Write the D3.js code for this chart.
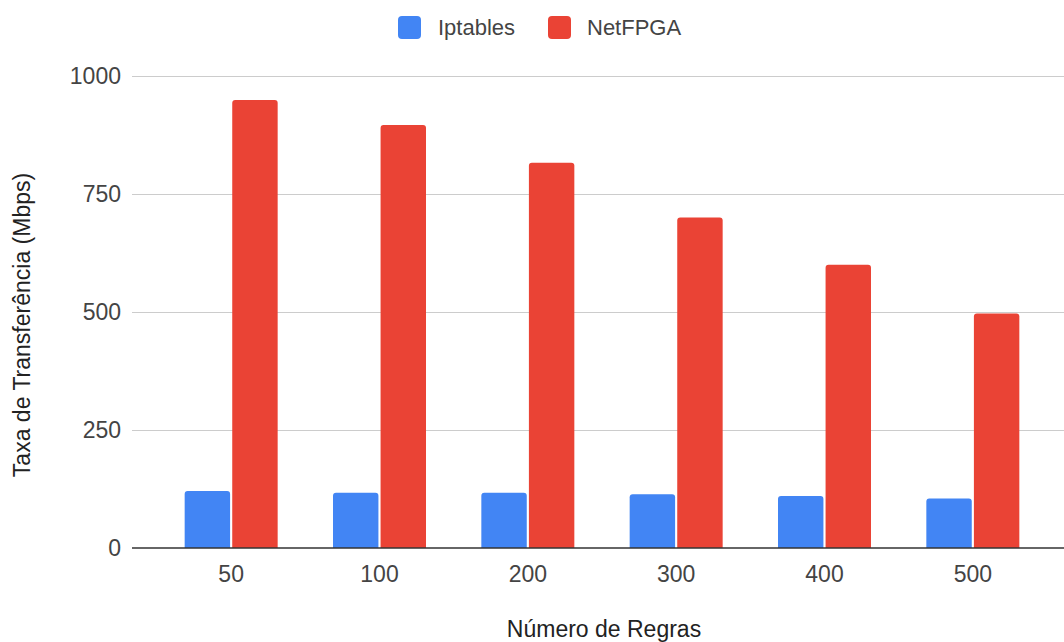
<!DOCTYPE html>
<html>
<head>
<meta charset="utf-8">
<script src="https://cdn.jsdelivr.net/npm/d3@7"></script>
<style>
  html, body { margin: 0; padding: 0; background: #fff; }
  svg { display: block; font-family: "Liberation Sans", Arial, sans-serif; }
</style>
</head>
<body>
<svg id="chart" width="1064" height="642"></svg>
<script>
const categories = ["50", "100", "200", "300", "400", "500"];
const seriesNames = ["Iptables", "NetFPGA"];
const iptables = [121, 117, 117, 114, 110, 105];
const netfpga = [949, 896, 816, 700, 600, 497];
const yTicks = [0, 250, 500, 750, 1000];
const colors = ["#4285F4", "#EA4335"];

const svg = d3.select("#chart");
const FONT = "Liberation Sans, Arial, sans-serif";
const plot = { left: 132, right: 1064, top: 76, bottom: 548 };

const x0 = d3.scaleBand().domain(categories).range([157, 1047])
  .paddingInner(0).paddingOuter(0);
const groupW = 93;
const x1 = d3.scaleBand().domain(seriesNames).range([0, groupW]).paddingInner(0.045);
const y = d3.scaleLinear().domain([0, 1000]).range([plot.bottom, plot.top]);

// gridlines
svg.append("g").selectAll("line").data(yTicks.filter(d => d !== 0)).join("line")
  .attr("x1", plot.left).attr("x2", plot.right)
  .attr("y1", d => y(d) + 0.5).attr("y2", d => y(d) + 0.5)
  .attr("stroke", "#cccccc").attr("stroke-width", 1);

// y tick labels
const yAxis = d3.axisLeft(y).tickValues(yTicks).tickFormat(d3.format("d")).tickSize(0).tickPadding(0);
const gy = svg.append("g").attr("transform", "translate(121,0)").call(yAxis);
gy.attr("font-family", FONT);
gy.select(".domain").remove();
gy.selectAll("text").attr("font-size", 23).attr("fill", "#444");

// bars
function roundTop(x, yTop, w, h, r) {
  r = Math.min(r, h, w / 2);
  return `M${x},${yTop + h}V${yTop + r}Q${x},${yTop} ${x + r},${yTop}H${x + w - r}Q${x + w},${yTop} ${x + w},${yTop + r}V${yTop + h}Z`;
}
const data = categories.map((c, i) => ({ cat: c, vals: [iptables[i], netfpga[i]] }));
const groups = svg.append("g").selectAll("g").data(data).join("g")
  .attr("transform", d => `translate(${x0(d.cat) + (x0.bandwidth() - groupW) / 2},0)`);
groups.selectAll("path").data(d => d.vals.map((v, j) => ({ v, s: seriesNames[j], j })))
  .join("path")
  .attr("d", d => roundTop(x1(d.s), y(d.v), x1.bandwidth(), y(0) - y(d.v), 3))
  .attr("fill", d => colors[d.j]);

// baseline
svg.append("line").attr("x1", plot.left).attr("x2", plot.right)
  .attr("y1", y(0)).attr("y2", y(0))
  .attr("stroke", "#333").attr("stroke-width", 1.3);

// x tick labels
const xAxis = d3.axisBottom(x0).tickSize(0).tickPadding(0);
const gx = svg.append("g").attr("transform", "translate(0,566)").call(xAxis);
gx.attr("font-family", FONT);
gx.select(".domain").remove();
gx.selectAll("text").attr("font-size", 23).attr("fill", "#444").attr("dy", "0.71em");

// axis titles
svg.append("text").attr("x", 604).attr("y", 637).attr("text-anchor", "middle")
  .attr("font-size", 23).attr("fill", "#222").text("Número de Regras");
svg.append("text").attr("transform", "translate(30,325) rotate(-90)")
  .attr("text-anchor", "middle").attr("font-size", 23).attr("fill", "#222")
  .text("Taxa de Transferência (Mbps)");

// legend
const legendItems = [
  { name: seriesNames[0], color: colors[0], sx: 398, tx: 438 },
  { name: seriesNames[1], color: colors[1], sx: 548, tx: 587 }
];
const lg = svg.append("g");
lg.selectAll("rect").data(legendItems).join("rect")
  .attr("x", d => d.sx).attr("y", 16).attr("width", 23).attr("height", 23)
  .attr("rx", 4).attr("fill", d => d.color);
lg.selectAll("text").data(legendItems).join("text")
  .attr("x", d => d.tx).attr("y", 35).attr("font-size", 22).attr("fill", "#444")
  .text(d => d.name);
</script>
</body>
</html>
